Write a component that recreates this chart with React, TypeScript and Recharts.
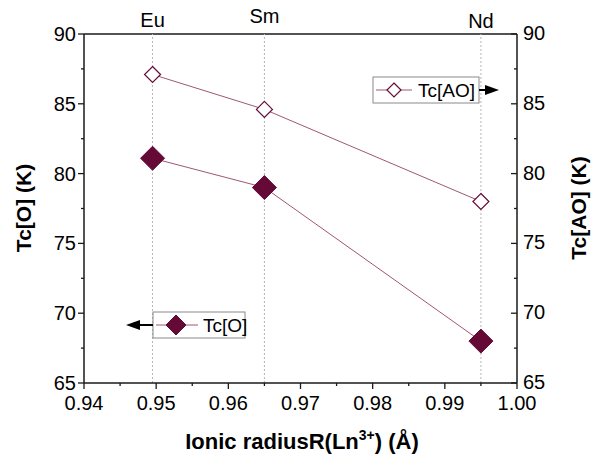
import React from "react";
import {
  LineChart,
  Line,
  XAxis,
  YAxis,
  ReferenceLine,
} from "recharts";

const elements = ["Eu", "Sm", "Nd"];
const radius = [0.9495, 0.965, 0.995];
const tcAO = [87.1, 84.6, 78.0];
const tcO = [81.1, 79.0, 68.0];

const xTicks = [0.94, 0.945, 0.95, 0.955, 0.96, 0.965, 0.97, 0.975, 0.98, 0.985, 0.99, 0.995, 1.0];
const yTicks = [65, 67.5, 70, 72.5, 75, 77.5, 80, 82.5, 85, 87.5, 90];

const data = radius.map((r, i) => ({ r, el: elements[i], ao: tcAO[i], o: tcO[i] }));

const FONT = '"Liberation Sans", Arial, Helvetica, sans-serif';
const AXIS = "#1a1a1a";
const DARK = "#650a36";
const LINE = "#a05676";

const isMajor = (v: number, step: number) =>
  Math.abs(v / step - Math.round(v / step)) < 1e-6;

const XTick = (props: any) => {
  const { x, y, payload } = props;
  const major = isMajor(payload.value, 0.01);
  return (
    <g>
      <line x1={x} x2={x} y1={y} y2={y + (major ? 6 : 3)} stroke={AXIS} strokeWidth={1.3} />
      {major && (
        <text x={x} y={y + 27} textAnchor="middle" fontSize={20} fontFamily={FONT} fill="#000">
          {payload.value.toFixed(2)}
        </text>
      )}
    </g>
  );
};

const YTickLeft = (props: any) => {
  const { x, y, payload } = props;
  const major = isMajor(payload.value, 5);
  return (
    <g>
      <line x1={x} x2={x - (major ? 6 : 3)} y1={y} y2={y} stroke={AXIS} strokeWidth={1.3} />
      {major && (
        <text x={x - 8} y={y + 7} textAnchor="end" fontSize={20} fontFamily={FONT} fill="#000">
          {payload.value}
        </text>
      )}
    </g>
  );
};

const YTickRight = (props: any) => {
  const { x, y, payload } = props;
  const major = isMajor(payload.value, 5);
  return (
    <g>
      <line x1={x} x2={x - (major ? 6 : 3)} y1={y} y2={y} stroke={AXIS} strokeWidth={1.3} />
      {major && (
        <text x={x + 6} y={y + 6} textAnchor="start" fontSize={20} fontFamily={FONT} fill="#000">
          {payload.value}
        </text>
      )}
    </g>
  );
};

const diamond = (cx: number, cy: number, r: number) =>
  `M${cx},${cy - r}L${cx + r},${cy}L${cx},${cy + r}L${cx - r},${cy}Z`;

const FilledDot = (props: any) => {
  const { cx, cy, index } = props;
  return <path key={`o${index}`} d={diamond(cx, cy, 12)} fill={DARK} stroke={DARK} />;
};

const OpenDot = (props: any) => {
  const { cx, cy, index } = props;
  return <path key={`a${index}`} d={diamond(cx, cy, 8)} fill="#fff" stroke={DARK} strokeWidth={1.2} />;
};

const labelOffsets = [7, 11, 6];

export default function App() {
  return (
    <div style={{ position: "absolute", left: 0, top: 0, width: 599, height: 456, background: "#fff" }}>
      <LineChart
        width={599}
        height={456}
        data={data}
        margin={{ top: 34, right: 22, bottom: 43, left: 24 }}
      >
        <XAxis
          xAxisId="b"
          dataKey="r"
          type="number"
          domain={[0.94, 1.0]}
          ticks={xTicks}
          interval={0}
          tick={<XTick />}
          tickLine={false}
          tickSize={0}
          tickMargin={0}
          height={30}
          axisLine={{ stroke: AXIS, strokeWidth: 1.5 }}
          label={{
            content: () => (
              <text x={302} y={449} textAnchor="middle" fontSize={22} fontWeight="bold" fontFamily={FONT} fill="#000">
                <tspan>Ionic radiusR(Ln</tspan>
                <tspan dy={-9} fontSize={14}>3+</tspan>
                <tspan dy={9}>) (Å)</tspan>
              </text>
            ),
          }}
        />
        <YAxis
          yAxisId="L"
          domain={[65, 90]}
          ticks={yTicks}
          interval={0}
          tick={<YTickLeft />}
          tickLine={false}
          tickSize={0}
          tickMargin={0}
          width={60}
          axisLine={{ stroke: AXIS, strokeWidth: 1.5 }}
          label={{
            content: () => (
              <text
                x={31}
                y={208}
                transform="rotate(-90 31 208)"
                textAnchor="middle"
                fontSize={21}
                fontWeight="bold"
                fontFamily={FONT}
                fill="#000"
              >
                Tc[O] (K)
              </text>
            ),
          }}
        />
        <YAxis
          yAxisId="R"
          orientation="right"
          domain={[65, 90]}
          ticks={yTicks}
          interval={0}
          tick={<YTickRight />}
          tickLine={false}
          tickSize={0}
          tickMargin={0}
          width={60}
          axisLine={{ stroke: AXIS, strokeWidth: 1.5 }}
          label={{
            content: () => (
              <text
                x={586}
                y={208}
                transform="rotate(-90 586 208)"
                textAnchor="middle"
                fontSize={21}
                fontWeight="bold"
                fontFamily={FONT}
                fill="#000"
              >
                Tc[AO] (K)
              </text>
            ),
          }}
        />
        <ReferenceLine xAxisId="b" yAxisId="L" y={90} stroke={AXIS} strokeWidth={1.5} />
        {radius.map((r, i) => (
          <ReferenceLine
            key={elements[i]}
            xAxisId="b"
            yAxisId="L"
            x={r}
            stroke="#b5b5b5"
            strokeDasharray="2 2"
            label={{
              value: elements[i],
              position: "top",
              offset: labelOffsets[i],
              fontSize: 20,
              fontFamily: FONT,
              fill: "#000",
            }}
          />
        ))}
        <Line
          xAxisId="b"
          yAxisId="L"
          dataKey="o"
          stroke={LINE}
          strokeWidth={1}
          dot={FilledDot}
          activeDot={false}
          isAnimationActive={false}
        />
        <Line
          xAxisId="b"
          yAxisId="R"
          dataKey="ao"
          stroke={LINE}
          strokeWidth={1}
          dot={OpenDot}
          activeDot={false}
          isAnimationActive={false}
        />
      </LineChart>
      <svg
        width={599}
        height={456}
        style={{ position: "absolute", left: 0, top: 0, pointerEvents: "none" }}
      >
        <g fontFamily={FONT} fontSize={19} fill="#000">
          <rect x={373} y={77} width={106} height={26} fill="#fff" stroke="#8a8a8a" strokeWidth={1} />
          <line x1={376} x2={412} y1={90} y2={90} stroke={LINE} strokeWidth={1} />
          <path d={diamond(394, 90, 7)} fill="#fff" stroke={DARK} strokeWidth={1.2} />
          <text x={418} y={97}>Tc[AO]</text>
          <line x1={479} x2={487} y1={90} y2={90} stroke="#000" strokeWidth={2} />
          <path d="M485,85 L499,90 L485,95 Z" fill="#000" />

          <rect x={153} y={312} width={92} height={26} fill="#fff" stroke="#8a8a8a" strokeWidth={1} />
          <line x1={156} x2={198} y1={325} y2={325} stroke={LINE} strokeWidth={1} />
          <path d={diamond(176, 325, 10)} fill={DARK} stroke={DARK} />
          <text x={203} y={332}>Tc[O]</text>
          <line x1={138} x2={153} y1={325} y2={325} stroke="#000" strokeWidth={2} />
          <path d="M140,320 L126,325 L140,330 Z" fill="#000" />
        </g>
      </svg>
    </div>
  );
}
